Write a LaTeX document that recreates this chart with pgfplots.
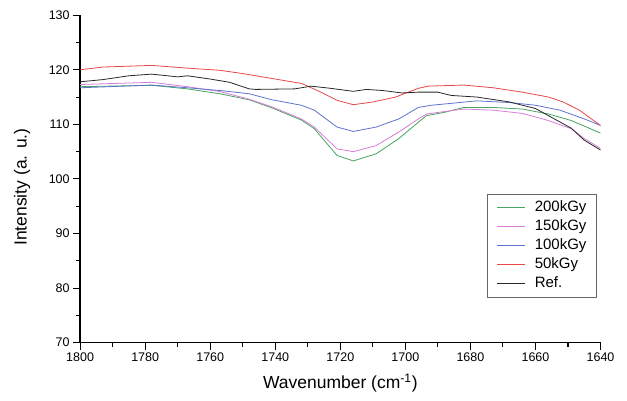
\documentclass[border=0pt]{standalone}
\usepackage{fontspec}
\setmainfont{Liberation Sans}
\usepackage{pgfplots}
\pgfplotsset{compat=1.18}
\definecolor{cg}{RGB}{70,165,95}
\definecolor{cp}{RGB}{215,125,215}
\definecolor{cb}{RGB}{95,115,205}
\definecolor{cr}{RGB}{232,72,72}
\definecolor{ck}{RGB}{40,40,40}
\begin{document}
\begin{tikzpicture}
\draw[white] (0pt,0pt) rectangle (627pt,400pt);
\begin{axis}[
  at={(80pt,57.3pt)}, anchor=south west,
  scale only axis, width=520.7pt, height=327.7pt,
  x dir=reverse,
  xmin=1640, xmax=1800, ymin=70, ymax=130,
  axis lines=left,
  axis line style={line width=1.3pt, -},
  xtick={1640,1660,...,1800}, ytick={70,80,...,130},
  minor tick num=1,
  tick align=outside,
  major tick length=7pt, minor tick length=4pt,
  tick style={black, line width=1.1pt},
  /pgf/number format/assume math mode=true,
  /pgf/number format/1000 sep={},
  tick label style={font=\fontsize{12.5}{14}\selectfont},
  xlabel={Wavenumber (cm\textsuperscript{-1})},
  ylabel={Intensity (a. u.)},
  label style={font=\fontsize{17.5}{20}\selectfont},
  xlabel style={at={(axis description cs:0.5,-0.123)}, anchor=center},
  ylabel style={at={(axis description cs:-0.1114,0.475)}, anchor=center},
  legend style={at={(0.993,0.455)}, anchor=north east, draw=black!60, line width=0.8pt,
    font=\fontsize{15}{17}\selectfont, inner xsep=9pt, inner ysep=5.8pt, row sep=3.6pt,
    nodes={inner sep=1pt, text height=10.5pt, text depth=3pt},
    /tikz/every odd column/.append style={column sep=8pt}},
  legend cell align=left,
  legend image code/.code={\draw[#1, line width=1pt] (0pt,0pt) -- (28pt,0pt);},
  every axis plot/.append style={line width=0.8pt},
]
\addplot[cg] coordinates {
(1800,116.9) (1778,117.15) (1767,116.5) (1757,115.6) (1748,114.5) (1741,113.0)
(1732,110.8) (1728,109.2) (1721,104.3) (1716,103.3) (1709,104.6) (1702,107.4)
(1696,110.4) (1693.5,111.6) (1688,112.2) (1682,113.1) (1673,113.1) (1664,112.8)
(1656,111.9) (1649,110.7) (1640,108.4)};
\addlegendentry{200kGy}
\addplot[cp] coordinates {
(1800,117.3) (1778,117.7) (1767,116.9) (1757,116.0) (1748,114.6) (1741,113.2)
(1732,111.0) (1728,109.5) (1721,105.5) (1716,105.0) (1709,106.1) (1702,108.6)
(1696,111.0) (1693.5,111.9) (1686,112.5) (1682,112.8) (1673,112.6) (1664,112.0)
(1656,110.7) (1649,109.2) (1645,107.4) (1640,105.6)};
\addlegendentry{150kGy}
\addplot[cb] coordinates {
(1800,116.7) (1778,117.2) (1767,116.7) (1757,116.2) (1748,115.6) (1741,114.5)
(1732,113.5) (1728,112.6) (1721,109.5) (1716,108.7) (1709,109.5) (1702,111.0)
(1696,113.1) (1692,113.5) (1685,113.9) (1678,114.3) (1668,114.0) (1660,113.5)
(1652.5,112.6) (1645,111.0) (1640,109.8)};
\addlegendentry{100kGy}
\addplot[cr] coordinates {
(1800,120.0) (1793,120.5) (1778,120.8) (1767,120.3) (1757,119.9) (1750,119.3)
(1741,118.4) (1732,117.5) (1727,116.2) (1721,114.4) (1716,113.6) (1710,114.1)
(1703,115.0) (1700,115.7) (1696,116.6) (1693,117.0) (1682,117.2) (1673,116.7)
(1664,115.9) (1656,115.0) (1651.5,114.1) (1646.5,112.6) (1640,109.8)};
\addlegendentry{50kGy}
\addplot[ck] coordinates {
(1800,117.8) (1793,118.2) (1785,118.9) (1778,119.2) (1770,118.7) (1767,118.9)
(1760,118.3) (1754,117.7) (1748,116.5) (1746,116.4) (1734,116.5) (1729,117.0)
(1723,116.6) (1716,116.05) (1712,116.4) (1707,116.2) (1701,115.75) (1696,115.9)
(1690,115.9) (1686,115.3) (1678,115.0) (1668,114.1) (1660,112.9) (1654.5,111.1)
(1649,109.3) (1645,107.1) (1640,105.3)};
\addlegendentry{Ref.}
\end{axis}
\end{tikzpicture}
\end{document}
